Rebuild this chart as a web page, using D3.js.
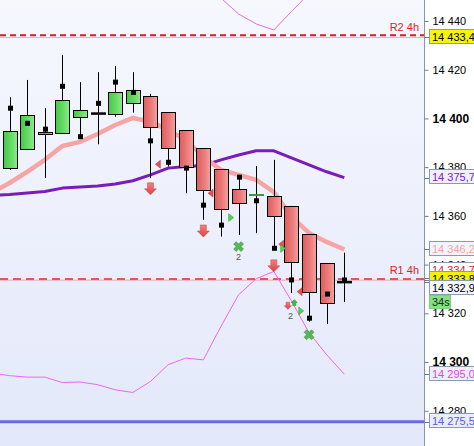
<!DOCTYPE html>
<html><head><meta charset="utf-8">
<script src="https://cdn.jsdelivr.net/npm/d3@7"></script>
<style>
html,body{margin:0;padding:0;background:#fff;}
svg{display:block;font-family:"Liberation Sans",Arial,sans-serif;}
</style></head><body>
<svg id="c" width="474" height="446"></svg>
<script>
// ---------------- data ----------------
const opens  = [14379.6,14387.4,14394.5,14393.9,14400.5,14402.1,14401.7,14406.2,14409.2,14402.5,14395.2,14387.8,14379.2,14371.0,14368.4,14368.3,14364.1,14352.5,14340.6,14332.9];
const highs  = [14408.7,14415.8,14404.2,14426.1,14414.9,14419.0,14421.5,14419.0,14410.1,14402.5,14395.2,14387.8,14379.2,14376.8,14380.5,14383.0,14364.1,14352.5,14340.6,14344.9];
const lows   = [14378.9,14387.0,14375.5,14393.6,14392.5,14389.4,14400.7,14402.4,14375.5,14380.2,14369.3,14358.4,14351.5,14352.2,14352.9,14346.0,14328.3,14316.6,14315.6,14324.6];
const closes = [14394.9,14401.3,14393.5,14407.5,14403.4,14402.1,14410.7,14411.6,14396.4,14387.8,14380.0,14370.7,14362.7,14365.2,14369.0,14360.0,14341.0,14328.7,14324.2,14332.9];
const dots   = [14404.2,14398.0,14395.6,14413.2,14392.5,14406.2,14414.9,14410.7,14390.8,14382.0,14379.6,14364.4,14356.2,14375.9,14366.2,14346.7,14333.7,14318.0,14327.9,14333.7];
// line series start one bar before the first visible candle (index -1)
const fastMA = [14369.5,14373.5,14378.1,14383.0,14388.7,14390.4,14393.6,14397.3,14400.2,14398.7,14395.3,14391.2,14384.3,14378.9,14376.8,14374.8,14369.8,14359.6,14353.0,14349.3,14346.2];
const slowMA = [14368.4,14368.8,14369.4,14370.0,14371.4,14371.9,14372.3,14373.1,14374.4,14376.8,14379.6,14380.3,14380.7,14383.0,14385.0,14386.7,14386.7,14383.8,14380.9,14378.1,14375.7];
const bandLow = [14295.5,14294.4,14293.8,14293.8,14291.6,14291.8,14290.7,14288.6,14287.5,14292.0,14298.9,14301.6,14300.9,14314.6,14327.6,14334.2,14337.2,14325.1,14312.0,14303.0,14295.0];
const bandUp  = [null,null,null,null,null,null,null,null,null,null,null,null,null,14449.4,14442.9,14438.8,14436.3,14443.9,14451.2,null,null];
const tickVals = [14280,14300,14320,14340,14360,14380,14400,14420,14440];
const boldTicks = [14300,14400];
// signal markers: [bar position, price]
const downArrows = [[8,14371.1],[11,14353.8],[15,14339.5]];
const smallDownArrows = [[15.8,14323.1]];
const greenCrosses = [[13,14347.4],[17,14311.2]];
const countLabels = [[13,14343.0,"2"],[15.95,14319.0,"2"]];
const leftTriangles = [[8.45,14381.2],[11.44,14369.3],[15.45,14348.4],[16.49,14328.9]];
const rightTriangles = [[12.55,14359.3],[16.53,14321.0],[15.5,14346.6]];
const upArrows = [[16.16,14324.4]];
// levels
const r2Level = 14434.2, r1Level = 14334.7;
const pinkLevels = [14433.4, 14333.8];
const blueLevel = 14275.5;
const levelNames = ["R2 4h","R1 4h"];
const labelValues = [14433.4,14375.7,14346.2,14334.7,14333.8,14332.9,14295.0,14275.5];
const labelText   = ["#000","#7b22c4","#f2a4a4","#e02424","#000","#000","#e544e5","#5b5be6"];
const labelFill   = ["#f6f600","#eef0fb","#f2f4fc","#fafbff","#f2f200","#f4f6fd","#eceffc","#e9ecfb"];
const timerText = "34s";

// ---------------- chart ----------------
const W = 474, H = 446, plotR = 424;
const svg = d3.select("#c");
const fmt0 = d3.formatLocale({decimal:",",thousands:" ",grouping:[3],currency:["",""]});
const fTick = fmt0.format(",.0f"), fVal = fmt0.format(",.1f");

const x = d3.scaleLinear().domain([0,19]).range([9.5,344.3]);
const y = d3.scaleLinear().domain([14280,14440]).range([410.75,21]);

const defs = svg.append("defs");
const bg = defs.append("linearGradient").attr("id","bg").attr("x1",0).attr("y1",0).attr("x2",0).attr("y2",1);
bg.append("stop").attr("offset",0).attr("stop-color","#f6f8fe");
bg.append("stop").attr("offset",1).attr("stop-color","#e3e8fa");
const gu = defs.append("linearGradient").attr("id","gUp");
gu.append("stop").attr("offset",0).attr("stop-color","#45c945");
gu.append("stop").attr("offset",0.6).attr("stop-color","#6bdc6b");
gu.append("stop").attr("offset",1).attr("stop-color","#8eea8e");
const gd = defs.append("linearGradient").attr("id","gDn");
gd.append("stop").attr("offset",0).attr("stop-color","#e05c5c");
gd.append("stop").attr("offset",0.6).attr("stop-color","#ec7f7f");
gd.append("stop").attr("offset",1).attr("stop-color","#f4a2a2");
const ga = defs.append("linearGradient").attr("id","gArr").attr("x1",0).attr("y1",0).attr("x2",0).attr("y2",1);
ga.append("stop").attr("offset",0).attr("stop-color","#f08080");
ga.append("stop").attr("offset",1).attr("stop-color","#e04040");
defs.append("clipPath").attr("id","clip").append("rect").attr("x",0).attr("y",0).attr("width",plotR).attr("height",H);

svg.append("rect").attr("x",0).attr("y",0).attr("width",plotR).attr("height",H).attr("fill","url(#bg)");
svg.append("rect").attr("x",plotR).attr("y",0).attr("width",W-plotR).attr("height",H).attr("fill","#fff");

const plot = svg.append("g").attr("clip-path","url(#clip)");

// level lines
plot.selectAll("line.pink").data(pinkLevels).join("line")
  .attr("x1",0).attr("x2",plotR).attr("y1",d=>y(d)+0.5).attr("y2",d=>y(d)+0.5)
  .attr("stroke","#f3aaaa").attr("stroke-width",1);
plot.append("line").attr("x1",0).attr("x2",plotR).attr("y1",y(r2Level)).attr("y2",y(r2Level))
  .attr("stroke","#e01818").attr("stroke-width",2).attr("stroke-dasharray","6,4");
plot.append("line").attr("x1",0).attr("x2",plotR).attr("y1",y(r1Level)+1.5).attr("y2",y(r1Level)+1.5)
  .attr("stroke","#e02a2a").attr("stroke-width",1.5).attr("stroke-dasharray","8,5");
plot.append("line").attr("x1",0).attr("x2",plotR).attr("y1",y(blueLevel)).attr("y2",y(blueLevel))
  .attr("stroke","#6b6bea").attr("stroke-width",3);

// level names
plot.selectAll("text.lvl").data([[r2Level,levelNames[0]],[r1Level,levelNames[1]]]).join("text")
  .attr("x",419).attr("y",d=>y(d[0])-4).attr("text-anchor","end")
  .attr("font-size","11px").attr("fill","#e02020").text(d=>d[1]);

// lines
const idxL = d3.range(-1,20);
const lineGen = d3.line().x((d,i)=>x(idxL[i])).y(d=>y(d)).defined(d=>d!=null);
plot.append("path").attr("d",lineGen(bandLow)).attr("fill","none").attr("stroke","#ee66ee").attr("stroke-width",1);
plot.append("path").attr("d",lineGen(bandUp)).attr("fill","none").attr("stroke","#ee66ee").attr("stroke-width",1);
plot.append("path").attr("d",lineGen(slowMA)).attr("fill","none").attr("stroke","#7a1cbc").attr("stroke-width",3).attr("stroke-linejoin","round");
plot.append("path").attr("d",lineGen(fastMA)).attr("fill","none").attr("stroke","#f7a4a4").attr("stroke-width",4.5).attr("stroke-linejoin","round");

// candles
const cw = 14;
const candles = opens.map((o,i)=>({i,o,h:highs[i],l:lows[i],c:closes[i],d:dots[i]}));
const cg = plot.append("g");
cg.selectAll("line.wick").data(candles).join("line")
  .attr("x1",d=>Math.round(x(d.i))+0.5).attr("x2",d=>Math.round(x(d.i))+0.5)
  .attr("y1",d=>y(d.h)).attr("y2",d=>y(d.l)).attr("stroke","#000").attr("stroke-width",1);
candles.forEach(d=>{
  const cx = Math.round(x(d.i));
  if (Math.abs(d.o-d.c) < 0.05) {
    cg.append("rect").attr("x",cx-7).attr("y",y(d.c)-1).attr("width",15).attr("height",2.5).attr("fill","#000");
  } else {
    const top = y(Math.max(d.o,d.c)), bot = y(Math.min(d.o,d.c));
    const up = d.c > d.o;
    cg.append("rect").attr("x",cx-7+0.5).attr("y",Math.round(top)+0.5)
      .attr("width",cw).attr("height",Math.max(1,Math.round(bot)-Math.round(top)))
      .attr("fill",up?"url(#gUp)":"url(#gDn)")
      .attr("stroke",(bot-top)<2.5 ? (up?"#3a9a3a":"#000") : "#000").attr("stroke-width",1);
  }
});
cg.selectAll("rect.dot").data(candles).join("rect")
  .attr("x",d=>Math.round(x(d.i))-2).attr("y",d=>y(d.d)-2.5).attr("width",5).attr("height",5).attr("fill","#000");

// markers
const arrowPath = s => `M${-3*s},${-6*s}L${3*s},${-6*s}L${3*s},0L${6*s},0L0,${6*s}L${-6*s},0L${-3*s},0Z`;
plot.selectAll("path.da").data(downArrows).join("path")
  .attr("transform",d=>`translate(${x(d[0])},${y(d[1])})`).attr("d",arrowPath(1))
  .attr("fill","url(#gArr)").attr("stroke","#d04040").attr("stroke-width",0.5);
plot.selectAll("path.sda").data(smallDownArrows).join("path")
  .attr("transform",d=>`translate(${x(d[0])},${y(d[1])})`).attr("d",arrowPath(0.6))
  .attr("fill","url(#gArr)").attr("stroke","#d04040").attr("stroke-width",0.5);
plot.selectAll("path.ua").data(upArrows).join("path")
  .attr("transform",d=>`translate(${x(d[0])},${y(d[1])}) rotate(180)`).attr("d",arrowPath(0.5))
  .attr("fill","#3cbf3c").attr("stroke","#2a8a2a").attr("stroke-width",0.5);
const crossSym = d3.symbol().type(d3.symbolCross).size(60);
plot.selectAll("path.gx").data(greenCrosses).join("path")
  .attr("transform",d=>`translate(${x(d[0])},${y(d[1])}) rotate(45)`).attr("d",crossSym())
  .attr("fill","#58b858").attr("stroke","#3f8f3f").attr("stroke-width",0.6).attr("stroke-linejoin","round");
plot.selectAll("path.lt").data(leftTriangles).join("path")
  .attr("transform",d=>`translate(${x(d[0])},${y(d[1])})`).attr("d","M-3,0L2,-4L2,4Z")
  .attr("fill","#e65050").attr("stroke","#c03030").attr("stroke-width",0.5);
plot.selectAll("path.rt").data(rightTriangles).join("path")
  .attr("transform",d=>`translate(${x(d[0])},${y(d[1])})`).attr("d","M3,0L-2,-4L-2,4Z")
  .attr("fill","#4cd44c").attr("stroke","#2e9a2e").attr("stroke-width",0.5);
plot.selectAll("text.cnt").data(countLabels).join("text")
  .attr("x",d=>x(d[0])).attr("y",d=>y(d[1])+3).attr("text-anchor","middle")
  .attr("font-size","9px").attr("fill","#555").text(d=>d[2]);

// axis
svg.append("line").attr("x1",plotR+0.5).attr("x2",plotR+0.5).attr("y1",0).attr("y2",H).attr("stroke","#8796a8");
const ax = svg.append("g").attr("transform",`translate(${plotR+0.5},0)`)
  .call(d3.axisRight(y).tickValues(tickVals).tickSize(4).tickPadding(4).tickFormat(fTick));
ax.select(".domain").remove();
ax.selectAll(".tick line").attr("stroke","#6d7d8d");
ax.selectAll(".tick text").attr("font-family","Liberation Sans, Arial, sans-serif")
  .attr("font-size",d=>boldTicks.includes(d)?"12px":"11px")
  .attr("font-weight",d=>boldTicks.includes(d)?"bold":"normal").attr("fill","#000");

// price labels with simple overlap spreading
const labs = labelValues.map((v,i)=>({v,i,y:y(v)}));
const sorted = labs.slice().sort((a,b)=>a.y-b.y);
let groups=[], cur=[sorted[0]];
for (let k=1;k<sorted.length;k++){ if (sorted[k].y-cur[cur.length-1].y<9) cur.push(sorted[k]); else {groups.push(cur);cur=[sorted[k]];} }
groups.push(cur);
groups.forEach(g=>{ const m=d3.mean(g,d=>d.y)-1.5; g.forEach((d,k)=>d.ly=m+(k-(g.length-1)/2)*9); });
const lg = svg.append("g");
labs.forEach(d=>{
  lg.append("line").attr("x1",plotR).attr("x2",plotR+5).attr("y1",Math.round(d.y)+0.5).attr("y2",Math.round(d.y)+0.5).attr("stroke","#6d7d8d");
});
labs.sort((a,b)=>a.i-b.i).forEach(d=>{
  const t = Math.round(d.ly-7)+0.5;
  lg.append("rect").attr("x",429.5).attr("y",t).attr("width",60).attr("height",14)
    .attr("fill",labelFill[d.i]).attr("stroke","#8a9aae");
  lg.append("text").attr("x",432).attr("y",t+11).attr("font-size","11px")
    .attr("fill",labelText[d.i]).text(fVal(d.v));
});
const curLab = labs.find(d=>d.v===closes[closes.length-1]);
const tt = Math.round(curLab.ly+8)+0.5;
lg.append("rect").attr("x",429.5).attr("y",tt).attr("width",21).attr("height",13).attr("fill","#86e086").attr("stroke","#7ccf7c");
lg.append("text").attr("x",432).attr("y",tt+10.5).attr("font-size","11px").attr("fill","#113311").text(timerText);
</script>
</body></html>
